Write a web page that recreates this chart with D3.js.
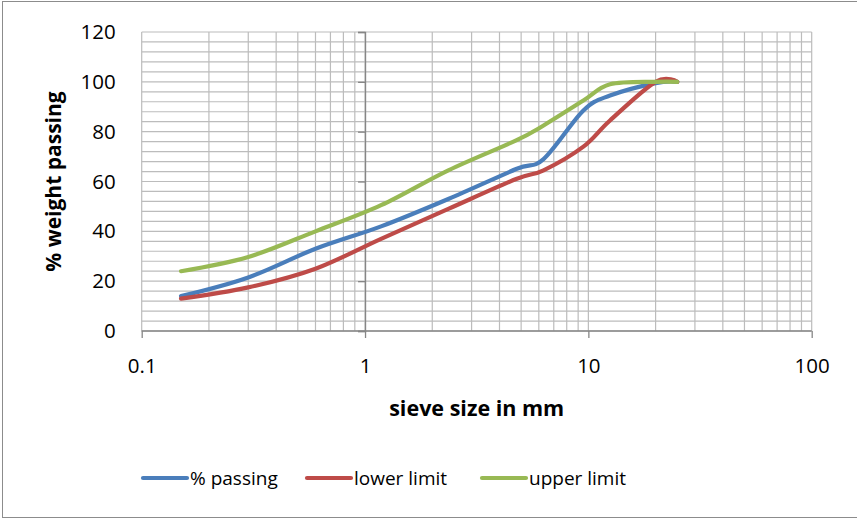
<!DOCTYPE html>
<html>
<head>
<meta charset="utf-8">
<script src="https://cdn.jsdelivr.net/npm/d3@7"></script>
<style>
  body { margin: 0; background: #fff; }
  svg { display: block; font-family: "Open Sans", sans-serif; }
</style>
</head>
<body>
<svg width="857" height="522"></svg>
<script>
// sieve sizes (mm) and the three gradation curves
var sieve   = [0.15, 0.3, 0.6, 1.18, 2.36, 4.75, 6.3, 9.5, 12.5, 20, 25];
var passing = [14, 21.5, 33, 42, 53, 65, 69, 88.5, 94.5, 99.5, 100];
var lower   = [13, 17.5, 25, 37, 49, 61, 64.5, 74, 84.5, 100, 100];
var upper   = [24, 29.7, 40, 50.5, 64.5, 76.5, 82.5, 92.5, 99, 100, 100];

var seriesNames  = ["% passing", "lower limit", "upper limit"];
var seriesColors = ["#4a7ebb", "#be4b48", "#98b954"];
var yTicks = [0, 20, 40, 60, 80, 100, 120];
var xTicks = [0.1, 1, 10, 100];

// plot box (note: "top" is a reserved window global, so use plotTop)
var svg = d3.select("svg"),
    plotLeft = 141.7, plotRight = 811.7, plotTop = 32, plotBottom = 331;

// outer chart border
svg.append("rect")
  .attr("x", 2.5).attr("y", 1.5)
  .attr("width", 856).attr("height", 516)
  .attr("fill", "none").attr("stroke", "#8c8c8c").attr("stroke-width", 1);

var x = d3.scaleLog().domain([0.1, 100]).range([plotLeft, plotRight]);
var y = d3.scaleLinear().domain([0, 120]).range([plotBottom, plotTop]);

// grid: every 4 on y, log minor lines on x
var grid = svg.append("g").attr("stroke", "#bcbcbc").attr("stroke-width", 1.2);
grid.selectAll("line.h")
  .data(d3.range(0, 121, 4))
  .enter().append("line")
    .attr("x1", plotLeft).attr("x2", plotRight)
    .attr("y1", function(d) { return y(d); })
    .attr("y2", function(d) { return y(d); });
grid.selectAll("line.v")
  .data(x.ticks())
  .enter().append("line")
    .attr("y1", plotTop).attr("y2", plotBottom)
    .attr("x1", function(d) { return x(d); })
    .attr("x2", function(d) { return x(d); });

// y tick labels at the left edge of the plot
var yLab = svg.append("g")
  .attr("transform", "translate(" + plotLeft + ",0)")
  .call(d3.axisLeft(y).tickValues(yTicks).tickSize(0).tickPadding(26));
yLab.select(".domain").remove();
yLab.selectAll("text").style("font-size", "20.5px").attr("fill", "#000")
  .attr("font-family", "Open Sans");

// y axis line crosses at x = 1
var yAx = svg.append("g")
  .attr("transform", "translate(" + x(1) + ",0)")
  .call(d3.axisLeft(y).tickValues(yTicks).tickSize(7).tickFormat(""));
yAx.select(".domain").attr("stroke", "#868686").attr("stroke-width", 1.3);
yAx.selectAll(".tick line").attr("stroke", "#868686").attr("stroke-width", 1.3);

// x axis
var xAx = svg.append("g")
  .attr("transform", "translate(0," + plotBottom + ")")
  .call(d3.axisBottom(x).tickValues(xTicks).tickSize(7).tickPadding(20)
        .tickFormat(d3.format("~g")));
xAx.select(".domain").attr("stroke", "#868686").attr("stroke-width", 1.3)
  .attr("d", "M" + plotLeft + ",0H" + plotRight);
xAx.selectAll(".tick line").attr("stroke", "#868686").attr("stroke-width", 1.3);
xAx.selectAll("text").style("font-size", "20.5px").attr("fill", "#000")
  .attr("font-family", "Open Sans");

// curves
var line = d3.line()
  .x(function(d) { return x(d[0]); })
  .y(function(d) { return y(d[1]); })
  .curve(d3.curveCardinal.tension(0));

[passing, lower, upper].forEach(function(vals, i) {
  svg.append("path")
    .datum(d3.zip(sieve, vals))
    .attr("d", line)
    .attr("fill", "none")
    .attr("stroke", seriesColors[i])
    .attr("stroke-width", 4.2)
    .attr("stroke-linejoin", "round")
    .attr("stroke-linecap", "round");
});

// axis titles
svg.append("text")
  .attr("x", (plotLeft + plotRight) / 2).attr("y", 416)
  .attr("text-anchor", "middle")
  .style("font-size", "21.5px").style("font-weight", "bold")
  .text("sieve size in mm");

svg.append("text")
  .attr("transform", "translate(61," + ((plotTop + plotBottom) / 2) + ") rotate(-90)")
  .attr("text-anchor", "middle")
  .style("font-size", "21px").style("font-weight", "bold")
  .text("% weight passing");

// legend
var legX = [143, 307, 482];
var legend = svg.append("g");
seriesNames.forEach(function(name, i) {
  legend.append("line")
    .attr("x1", legX[i]).attr("x2", legX[i] + 44)
    .attr("y1", 478).attr("y2", 478)
    .attr("stroke", seriesColors[i]).attr("stroke-width", 4.2)
    .attr("stroke-linecap", "round");
  legend.append("text")
    .attr("x", legX[i] + 47).attr("y", 478).attr("dy", "0.35em")
    .style("font-size", "19px")
    .text(name);
});
</script>
</body>
</html>
